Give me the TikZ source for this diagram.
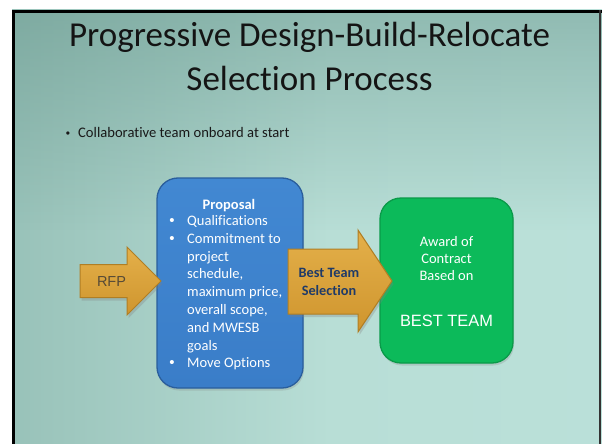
\documentclass[tikz,border=0pt]{standalone}
\usepackage{fontspec}
\setmainfont{Carlito}[Ligatures=NoCommon]
\newfontfamily\arialfont{Liberation Sans}
\usetikzlibrary{shadows,fadings}

\definecolor{bgL}{HTML}{7BA89E}
\definecolor{bgM}{HTML}{B8DED6}
\definecolor{bgR}{HTML}{BDE3DC}
\definecolor{bgTop}{HTML}{5E8E84}
\definecolor{propFill}{HTML}{3A7DC8}
\definecolor{propTop}{HTML}{4288D2}
\definecolor{propEdge}{HTML}{2A5E9C}
\definecolor{awardFill}{HTML}{0CBA5A}
\definecolor{awardEdge}{HTML}{0A9A49}
\definecolor{goldTop}{HTML}{E4B04A}
\definecolor{goldBot}{HTML}{CF952E}
\definecolor{goldEdge}{HTML}{B07E24}
\definecolor{navyText}{HTML}{1F3A68}
\definecolor{rfpText}{HTML}{564A36}

\pgfdeclarehorizontalshading{slidebg}{100bp}{color(0bp)=(bgL); color(52bp)=(bgM); color(100bp)=(bgR)}

\tikzset{
  titletext/.style={font=\fontsize{35}{43}\selectfont, text=black!92, inner sep=0pt},
  bodytext/.style={font=\fontsize{14.6}{17.8}\selectfont, text=black!90, inner sep=0pt},
  proptext/.style={font=\fontsize{14.5}{17.8}\selectfont, text=white, inner sep=0pt},
  awardtext/.style={font=\fontsize{14.5}{17}\selectfont, text=white, inner sep=0pt},
  bulletmark/.style={font=\arialfont\fontsize{15}{17}\selectfont, inner sep=0pt},
  roundbox/.style={rounded corners=21pt, line width=1.3pt,
    drop shadow={opacity=0.25, shadow xshift=1pt, shadow yshift=-2.5pt}},
  propbox/.style={roundbox, draw=propEdge, top color=propTop, bottom color=propFill},
  awardbox/.style={roundbox, draw=awardEdge, fill=awardFill},
  goldarrow/.style={draw=goldEdge, line width=1pt, line join=miter,
    top color=goldTop, bottom color=goldBot,
    drop shadow={opacity=0.3, shadow xshift=1.5pt, shadow yshift=-3pt}},
}

\begin{document}
\begin{tikzpicture}[x=1pt, y=-1pt]
  \useasboundingbox (0,0) rectangle (602,444);
  \fill[white] (0,0) rectangle (602,444);

  % slide background
  \shade[shading=slidebg] (12,10) rectangle (602,444);
  \fill[bgTop, fill opacity=0.45, path fading=south] (12,10) rectangle (602,230);
  \draw[black, line width=3pt] (13.5,444) -- (13.5,11.5) -- (602,11.5);
  \draw[black!80, line width=1.5pt] (600.2,10) -- (600.2,444);

  % title and bullet
  \node[titletext, anchor=base] (title1) at (309.5,47) {Progressive Design-Build-Relocate};
  \node[titletext, anchor=base] (title2) at (309.5,90) {Selection Process};
  \node[bulletmark, anchor=base, text=black!90, font=\arialfont\fontsize{12}{14}\selectfont] (tb) at (68,137) {•};
  \node[bodytext, anchor=base west] (tline) at (78,137) {Collaborative team onboard at start};

  % proposal box
  \node[propbox, minimum width=146pt, minimum height=210pt] (prop) at (230,283) {};
  \node[proptext, anchor=base, font=\bfseries\fontsize{14.5}{17.8}\selectfont] (ptitle) at (229,209.3) {Proposal};
  \foreach \txt [count=\i from 0] in {Qualifications,Commitment to,project,{schedule,},{maximum price,},{overall scope,},and MWESB,goals,Move Options}
    \node[proptext, anchor=base west] (pl\i) at (187,225.5+17.8*\i) {\txt};
  \foreach \i in {0,1,8}
    \node[bulletmark, anchor=base, text=white] (pb\i) at (172,225.5+17.8*\i) {•};

  % award box
  \node[awardbox, minimum width=133pt, minimum height=165pt] (award) at (446.5,280.5) {};
  \node[awardtext, anchor=base] (aw1) at (446.5,246.7) {Award of};
  \node[awardtext, anchor=base] (aw2) at (446.5,263.5) {Contract};
  \node[awardtext, anchor=base] (aw3) at (446.5,280.5) {Based on};
  \node[anchor=base, inner sep=0pt, text=white, font=\arialfont\fontsize{16.4}{19}\selectfont] (aw4) at (446.5,326) {BEST TEAM};

  % arrows
  \path[goldarrow] (80,264.5) -- (127,264.5) -- (127,247) -- (161,281) -- (127,315) -- (127,297.5) -- (80,297.5) -- cycle;
  \node[anchor=base, inner sep=0pt, text=rfpText, font=\arialfont\fontsize{14.5}{17}\selectfont] (rfp) at (111.5,286) {RFP};

  \path[goldarrow] (288,249) -- (358,249) -- (358,230) -- (392,281) -- (358,332) -- (358,314) -- (288,314) -- cycle;
  \node[anchor=base, inner sep=0pt, text=navyText, font=\bfseries\fontsize{14.3}{18}\selectfont] (best1) at (329,277.3) {Best Team};
  \node[anchor=base, inner sep=0pt, text=navyText, font=\bfseries\fontsize{14.3}{18}\selectfont] (best2) at (329,295.2) {Selection};
\end{tikzpicture}
\end{document}
